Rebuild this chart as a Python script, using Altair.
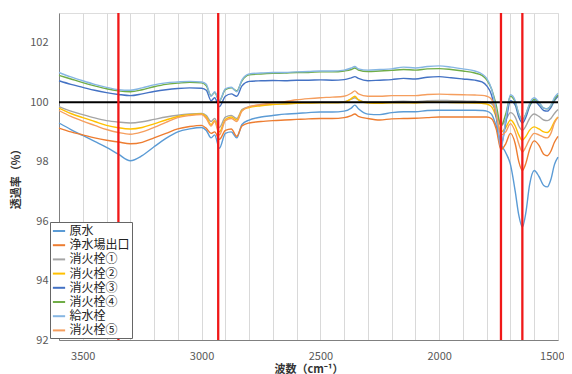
import altair as alt
import pandas as pd

SERIES = ["原水", "浄水場出口", "消火栓①", "消火栓②", "消火栓③", "消火栓④", "給水栓", "消火栓⑤"]
COLORS = ["#5B9BD5", "#ED7D31", "#A5A5A5", "#FFC000", "#4472C4", "#70AD47", "#86B6E3", "#F59E5E"]

WN = [3600, 3550, 3500, 3450, 3400, 3350, 3300, 3250, 3200, 3150, 3100, 3050, 3000, 2980, 2960, 2945,
      2925, 2900, 2875, 2852, 2830, 2800, 2750, 2700, 2650, 2600, 2550, 2500, 2450, 2400, 2370, 2355,
      2340, 2300, 2250, 2200, 2150, 2100, 2050, 2000, 1950, 1900, 1850, 1820, 1800, 1780, 1760, 1740,
      1720, 1700, 1680, 1665, 1650, 1635, 1620, 1600, 1580, 1560, 1545, 1530, 1515, 1500]

GENSUI = [99.3, 99.08, 98.88, 98.68, 98.48, 98.25, 98.03, 98.2, 98.5, 98.78, 99.0, 99.1, 99.15, 99.05, 98.8, 98.9,
          98.45, 98.95, 99.0, 98.8, 99.25, 99.4, 99.5, 99.55, 99.6, 99.62, 99.65, 99.67, 99.67, 99.7, 99.8, 99.9,
          99.78, 99.6, 99.58, 99.65, 99.68, 99.68, 99.72, 99.73, 99.73, 99.73, 99.73, 99.72, 99.7, 99.6, 99.2, 98.6,
          98.3, 97.9, 97.0, 96.2, 95.8, 96.3, 97.2, 97.7, 97.5, 97.2, 97.15, 97.4, 97.9, 98.15]
JOSUI = [99.13, 99.0, 98.9, 98.8, 98.72, 98.66, 98.6, 98.65, 98.8, 98.95, 99.1, 99.18, 99.22, 99.12, 98.95, 99.0,
         98.75, 99.05, 99.1, 98.85, 99.2, 99.3, 99.35, 99.38, 99.4, 99.42, 99.44, 99.45, 99.45, 99.48, 99.55, 99.6,
         99.52, 99.45, 99.4, 99.44, 99.45, 99.46, 99.48, 99.5, 99.5, 99.5, 99.5, 99.5, 99.5, 99.45, 99.1, 98.4,
         98.6, 98.95, 98.6, 98.0, 97.7, 97.95, 98.4, 98.7, 98.55, 98.25, 98.2, 98.35, 98.65, 98.85]
SHOKA1 = [99.85, 99.7, 99.58, 99.47, 99.38, 99.33, 99.3, 99.34, 99.42, 99.5, 99.56, 99.6, 99.62, 99.55, 99.35, 99.45,
          99.15, 99.5, 99.55, 99.45, 99.75, 99.85, 99.9, 99.93, 99.95, 99.97, 99.98, 100.0, 100.0, 100.02, 100.1, 100.15,
          100.08, 100.0, 100.0, 100.02, 100.03, 100.02, 100.05, 100.06, 100.05, 100.04, 100.03, 100.02, 100.0, 99.95, 99.7, 99.2,
          99.4, 99.65, 99.5, 99.2, 99.05, 99.2, 99.45, 99.6, 99.52, 99.4, 99.38, 99.45, 99.62, 99.75]
SHOKA2 = [99.8, 99.62, 99.48, 99.35, 99.22, 99.14, 99.1, 99.15, 99.27, 99.4, 99.52, 99.58, 99.6, 99.5, 99.25, 99.38,
          99.0, 99.42, 99.5, 99.4, 99.72, 99.82, 99.88, 99.92, 99.94, 99.96, 99.97, 99.98, 99.98, 100.0, 100.12, 100.2,
          100.08, 99.97, 99.96, 99.98, 99.98, 99.97, 100.0, 100.0, 99.99, 99.98, 99.97, 99.96, 99.94, 99.85, 99.5, 99.0,
          99.15, 99.4, 99.2, 98.9, 98.72, 98.85, 99.05, 99.17, 99.1, 99.0, 98.98, 99.1, 99.35, 99.5]
SHOKA3 = [100.72, 100.6, 100.5, 100.4, 100.32, 100.26, 100.22, 100.28, 100.36, 100.42, 100.46, 100.48, 100.47, 100.4, 100.05, 100.15,
          99.85, 100.2, 100.28, 100.2, 100.55, 100.7, 100.72, 100.73, 100.72, 100.74, 100.74, 100.75, 100.74, 100.76, 100.82, 100.86,
          100.8, 100.72, 100.74, 100.76, 100.8, 100.78, 100.84, 100.86, 100.82, 100.78, 100.74, 100.68, 100.55, 100.25, 99.5, 98.55,
          99.3, 100.05, 99.9, 99.5, 99.3, 99.5, 99.85, 100.05, 99.9, 99.72, 99.7, 99.82, 100.05, 100.2]
SHOKA4 = [100.9, 100.78, 100.66, 100.55, 100.45, 100.38, 100.35, 100.42, 100.52, 100.6, 100.64, 100.67, 100.65, 100.55, 100.22, 100.32,
          100.05, 100.42, 100.48, 100.38, 100.72, 100.92, 100.95, 100.97, 100.98, 101.0, 101.0, 101.02, 101.02, 101.05, 101.1, 101.15,
          101.08, 101.03, 101.05, 101.07, 101.1, 101.08, 101.12, 101.13, 101.1, 101.05, 100.98, 100.9, 100.75, 100.45, 99.9, 99.2,
          99.6, 100.2, 100.0, 99.6, 99.4, 99.6, 99.9, 100.1, 99.98, 99.8, 99.78, 99.88, 100.1, 100.25]
KYUSUI = [101.0, 100.85, 100.72, 100.6, 100.5, 100.42, 100.4, 100.48, 100.58, 100.65, 100.68, 100.7, 100.68, 100.6, 100.2, 100.35,
          100.05, 100.45, 100.5, 100.35, 100.75, 100.95, 100.98, 101.0, 101.0, 101.02, 101.03, 101.05, 101.05, 101.08, 101.15, 101.2,
          101.12, 101.08, 101.1, 101.12, 101.18, 101.15, 101.2, 101.22, 101.18, 101.12, 101.05, 100.95, 100.8, 100.45, 99.7, 98.45,
          99.4, 100.25, 100.05, 99.6, 99.38, 99.6, 99.95, 100.15, 100.0, 99.8, 99.78, 99.9, 100.15, 100.3]
SHOKA5 = [99.72, 99.52, 99.36, 99.22, 99.08, 98.98, 98.92, 99.0, 99.15, 99.32, 99.48, 99.55, 99.58, 99.45, 99.2, 99.35,
          98.9, 99.38, 99.45, 99.35, 99.7, 99.85, 99.92, 99.98, 100.02, 100.08, 100.12, 100.15, 100.17, 100.2, 100.3, 100.38,
          100.28, 100.2, 100.2, 100.22, 100.22, 100.22, 100.26, 100.27, 100.26, 100.25, 100.24, 100.23, 100.2, 100.1, 99.6, 98.9,
          99.0, 99.28, 99.0, 98.6, 98.33, 98.5, 98.75, 98.95, 98.9, 98.82, 98.8, 98.95, 99.3, 99.5]

VALUES = [GENSUI, JOSUI, SHOKA1, SHOKA2, SHOKA3, SHOKA4, KYUSUI, SHOKA5]
RED_LINES = [3350, 2930, 1740, 1650]
X_TICKS = list(range(1500, 3601, 100))
Y_TICKS = [92, 94, 96, 98, 100, 102]

rows = []
for name, vals in zip(SERIES, VALUES):
    for w, v in zip(WN, vals):
        rows.append({"series": name, "wn": w, "T": v})
df = pd.DataFrame(rows)

FONT = "Noto Sans CJK JP"

xscale = alt.Scale(domain=[1500, 3600], reverse=True, nice=False, zero=False)
yscale = alt.Scale(domain=[92, 103], nice=False, zero=False)

X_AXIS = alt.Axis(values=X_TICKS, labelExpr="datum.value % 500 === 0 ? format(datum.value, 'd') : ''",
                  grid=True, gridColor="#D9D9D9", gridWidth=1, ticks=False, tickSize=0,
                  labelPadding=10, labelFlush=False, labelOverlap=False,
                  labelAlign={"condition": {"test": "datum.value === 1500", "value": "right"}, "value": "center"},
                  labelOffset={"condition": {"test": "datum.value === 1500", "value": 6}, "value": 0},
                  labelFont=FONT, labelFontSize=11, labelColor="#595959",
                  titleFont=FONT, titleFontSize=11, titleFontWeight="bold", titleColor="#333333",
                  titleY=29, titleBaseline="middle",
                  domainColor="#808080")
Y_AXIS = alt.Axis(values=Y_TICKS, grid=False, ticks=False, tickSize=0, labelPadding=11,
                  labelFlush=False, labelOverlap=False,
                  labelFont=FONT, labelFontSize=11, labelColor="#595959",
                  titleFont=FONT, titleFontSize=11, titleFontWeight="bold", titleColor="#333333",
                  titleX=-43, titleY=163, titleBaseline="middle",
                  domainColor="#808080")

X_TITLE = "波数（cm⁻¹）"
Y_TITLE = "透過率（%）"

lines = alt.Chart(df).mark_line(strokeWidth=1.4, interpolate="monotone").encode(
    x=alt.X("wn:Q", scale=xscale, title=X_TITLE, axis=X_AXIS),
    y=alt.Y("T:Q", scale=yscale, title=Y_TITLE, axis=Y_AXIS),
    color=alt.Color("series:N", scale=alt.Scale(domain=SERIES, range=COLORS),
                    legend=alt.Legend(title=None, orient="none", legendX=-9, legendY=209,
                                      symbolType="stroke", symbolStrokeWidth=2, symbolSize=150,
                                      labelFont=FONT, labelFontSize=12, labelColor="#222222",
                                      labelOffset=3, rowPadding=0.2, padding=1.5,
                                      strokeColor="#666666", fillColor="white")),
)

black = alt.Chart(pd.DataFrame({"T": [100]})).mark_rule(color="black", strokeWidth=2).encode(
    y=alt.Y("T:Q", scale=yscale, title=Y_TITLE, axis=Y_AXIS))
red = alt.Chart(pd.DataFrame({"wn": RED_LINES})).mark_rule(color="#F01818", strokeWidth=2.3).encode(
    x=alt.X("wn:Q", scale=xscale, title=X_TITLE, axis=X_AXIS))

chart = alt.layer(lines, black, red).properties(
    width=499, height=327,
    padding={"left": 51, "top": 5, "right": 6, "bottom": 36},
    autosize=alt.AutoSizeParams(type="none"),
).configure_view(stroke="#808080", strokeWidth=1).configure(background="white")

chart.save("out.html", embed_options={"renderer": "svg", "actions": False})
